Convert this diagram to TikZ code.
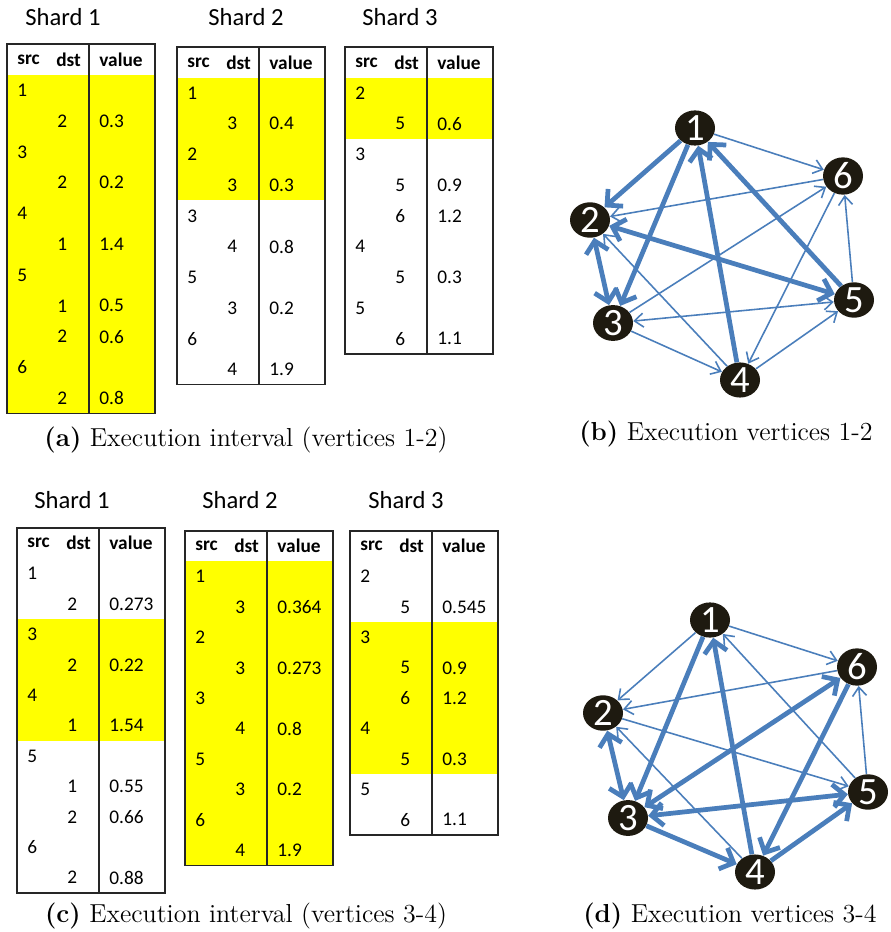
\documentclass[tikz,border=0pt]{standalone}
\usepackage{fontspec}
\newfontfamily\tabfont{Carlito}
\usetikzlibrary{arrows.meta, positioning, shapes.geometric}

\definecolor{hlyellow}{RGB}{255,255,0}
\definecolor{edgeblue}{RGB}{74,126,187}
\definecolor{vtxblack}{RGB}{30,26,16}

\tikzset{
  tabline/.style={draw=black!85, line width=0.8pt},
  cell/.style={anchor=west, inner sep=0pt, font=\tabfont\fontsize{11}{13}\selectfont},
  head/.style={cell, font=\tabfont\bfseries\fontsize{11}{13}\selectfont},
  title/.style={inner sep=0pt, font=\tabfont\fontsize{14}{16}\selectfont},
  caption/.style={inner sep=0pt, font=\fontsize{14.8}{17}\selectfont},
  vtx/.style={ellipse, fill=vtxblack, text=white, minimum width=0.8cm, minimum height=0.54cm,
    inner sep=0pt, font=\tabfont\fontsize{22}{22}\selectfont},
  thinedge/.style={draw=edgeblue, line width=0.9pt, -{Straight Barb[length=5pt, width=8pt]}},
  thickedge/.style={draw=edgeblue, line width=2.7pt, -{Straight Barb[length=6.5pt, width=13pt]}},
  bothends/.style={{Straight Barb[length=6.5pt, width=13pt]}-{Straight Barb[length=6.5pt, width=13pt]}},
  thinboth/.style={{Straight Barb[length=5pt, width=8pt]}-{Straight Barb[length=5pt, width=8pt]}}
}

% name, left, top, row height, rows, first/last yellow row, entries src/dst/value
\newcommand{\shardtab}[8]{%
  \fill[hlyellow] ({#2},{#3+#6*#4}) rectangle ({#2+148},{#3+(#7+1)*#4});
  \draw[tabline] ({#2},{#3}) rectangle ({#2+148},{#3+(#5+1)*#4});
  \draw[tabline] ({#2+82},{#3}) -- ({#2+82},{#3+(#5+1)*#4});
  \node[head] (#1src) at ({#2+10},{#3+0.5*#4}) {src};
  \node[head] (#1dst) at ({#2+49},{#3+0.5*#4}) {dst};
  \node[head] (#1val) at ({#2+92},{#3+0.5*#4}) {value};
  \foreach [count=\i] \s/\d/\v in {#8} {
    \node[cell] (#1s\i) at ({#2+10},{#3+(\i+0.5)*#4}) {\s};
    \node[cell] (#1d\i) at ({#2+50},{#3+(\i+0.5)*#4}) {\d};
    \node[cell] (#1v\i) at ({#2+92},{#3+(\i+0.5)*#4}) {\v};
  }%
}

\begin{document}
\begin{tikzpicture}[x=0.02cm, y=-0.02cm]
  \useasboundingbox (0,0) rectangle (890,932);

  % (a) shards, interval 1-2
  \node[title] (ttlA1) at (63,17) {Shard 1};
  \node[title] (ttlA2) at (246,17) {Shard 2};
  \node[title] (ttlA3) at (400,17) {Shard 3};
  \shardtab{ta}{7}{44}{30.8}{11}{1}{11}{1//,/2/0.3,3//,/2/0.2,4//,/1/1.4,5//,/1/0.5,/2/0.6,6//,/2/0.8}
  \shardtab{tb}{177}{47}{30.7}{10}{1}{4}{1//,/3/0.4,2//,/3/0.3,3//,/4/0.8,5//,/3/0.2,6//,/4/1.9}
  \shardtab{tc}{345}{47}{30.7}{9}{1}{2}{2//,/5/0.6,3//,/5/0.9,/6/1.2,4//,/5/0.3,5//,/6/1.1}
  \node[caption] (capA) at (246,440) {\textbf{(a)} Execution interval (vertices 1-2)};

  % (b) graph, vertices 1-2
  \node[vtx] (b1) at (695,128) {1};
  \node[vtx] (b6) at (843,176) {6};
  \node[vtx] (b2) at (590,220) {2};
  \node[vtx] (b5) at (854,300) {5};
  \node[vtx] (b3) at (613,323) {3};
  \node[vtx] (b4) at (740,380) {4};
  \draw[thickedge] (b1) -- (b2);
  \draw[thickedge] (b1) -- (b3);
  \draw[thickedge] (b4) -- (b1);
  \draw[thickedge] (b5) -- (b1);
  \draw[thickedge, bothends] (b2) -- (b5);
  \draw[thickedge, bothends] (b2) -- (b3);
  \draw[thinedge] (b1) -- (b6);
  \draw[thinedge] (b6) -- (b2);
  \draw[thinedge] (b3) -- (b6);
  \draw[thinedge] (b6) -- (b4);
  \draw[thinedge] (b5) -- (b6);
  \draw[thinedge, thinboth] (b3) -- (b5);
  \draw[thinedge] (b4) -- (b2);
  \draw[thinedge] (b3) -- (b4);
  \draw[thinedge] (b4) -- (b5);
  \node[caption] (capB) at (726,434) {\textbf{(b)} Execution vertices 1-2};

  % (c) shards, interval 3-4
  \node[title] (ttlC1) at (72,500) {Shard 1};
  \node[title] (ttlC2) at (240,500) {Shard 2};
  \node[title] (ttlC3) at (406,500) {Shard 3};
  \shardtab{tx}{17}{528}{30.4}{11}{3}{6}{1//,/2/0.273,3//,/2/0.22,4//,/1/1.54,5//,/1/0.55,/2/0.66,6//,/2/0.88}
  \shardtab{ty}{185}{531}{30.4}{10}{1}{10}{1//,/3/0.364,2//,/3/0.273,3//,/4/0.8,5//,/3/0.2,6//,/4/1.9}
  \shardtab{tz}{350}{531}{30.4}{9}{3}{7}{2//,/5/0.545,3//,/5/0.9,/6/1.2,4//,/5/0.3,5//,/6/1.1}
  \node[caption] (capC) at (246,916) {\textbf{(c)} Execution interval (vertices 3-4)};

  % (d) graph, vertices 3-4
  \node[vtx] (d1) at (710,620) {1};
  \node[vtx] (d6) at (857,667) {6};
  \node[vtx] (d2) at (603,713) {2};
  \node[vtx] (d5) at (868,792) {5};
  \node[vtx] (d3) at (628,818) {3};
  \node[vtx] (d4) at (755,872) {4};
  \draw[thickedge] (d1) -- (d3);
  \draw[thickedge] (d4) -- (d1);
  \draw[thickedge, bothends] (d3) -- (d6);
  \draw[thickedge] (d6) -- (d4);
  \draw[thickedge, bothends] (d2) -- (d3);
  \draw[thickedge, bothends] (d3) -- (d5);
  \draw[thickedge] (d3) -- (d4);
  \draw[thickedge] (d4) -- (d5);
  \draw[thinedge] (d1) -- (d2);
  \draw[thinedge] (d5) -- (d1);
  \draw[thinedge] (d1) -- (d6);
  \draw[thinedge] (d6) -- (d2);
  \draw[thinedge] (d5) -- (d6);
  \draw[thinedge] (d2) -- (d5);
  \draw[thinedge] (d4) -- (d2);
  \node[caption] (capD) at (730,916) {\textbf{(d)} Execution vertices 3-4};
\end{tikzpicture}
\end{document}
